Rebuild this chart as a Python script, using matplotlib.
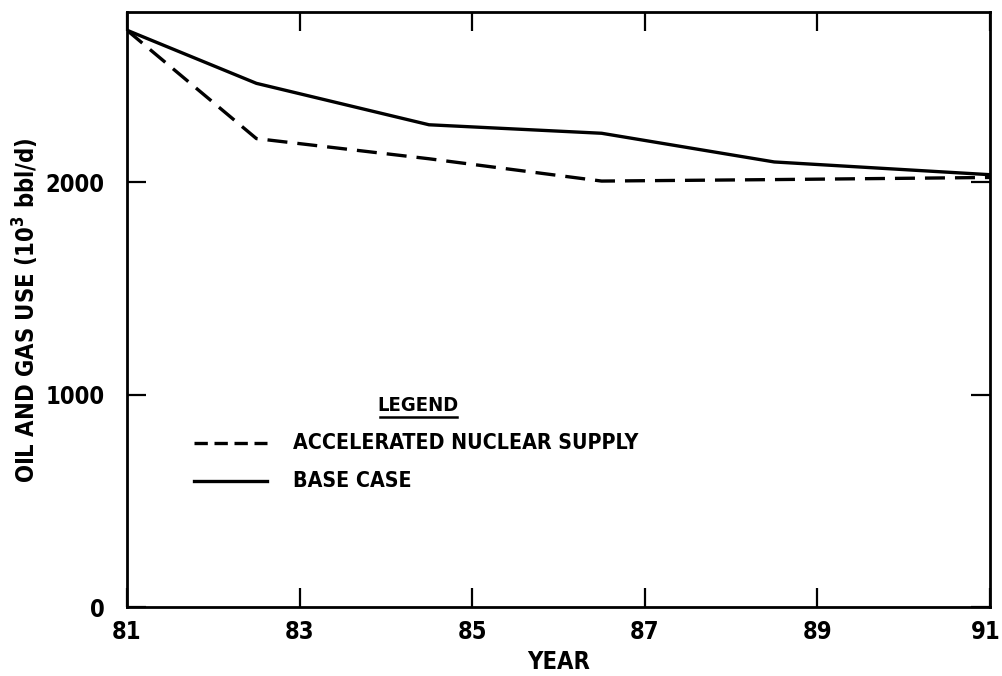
import matplotlib
matplotlib.use("Agg")
import matplotlib.pyplot as plt
from matplotlib.lines import Line2D
from matplotlib.transforms import ScaledTranslation

years = [81, 82.5, 84.5, 86.5, 88.5, 91]
base_case = [2715, 2465, 2270, 2230, 2095, 2035]
accelerated = [2715, 2205, 2110, 2005, 2012, 2022]

xticks = [81, 83, 85, 87, 89, 91]
xticklabels = ["81", "83", "85", "87", "89", "91"]
yticks = [0, 1000, 2000]
yticklabels = ["0", "1000", "2000"]

plt.rcParams['font.family'] = ['DejaVu Sans']
plt.rcParams['font.stretch'] = 'condensed'
plt.rcParams['mathtext.fontset'] = 'dejavusans'
fig = plt.figure(figsize=(10.02, 6.76), dpi=100)
ax = fig.add_axes([0.1267, 0.102, 0.8613, 0.880])

ax.plot(years, base_case, color="black", lw=2.4, solid_capstyle="round")
ax.plot(years, accelerated, color="black", lw=2.4, dashes=(6, 3))

ax.set_xlim(81, 91)
ax.set_ylim(0, 2800)
ax.set_xticks(xticks)
ax.set_xticklabels(xticklabels, fontsize=17, fontweight="bold")
ax.set_yticks(yticks)
ax.set_yticklabels(yticklabels, fontsize=17, fontweight="bold")
ax.tick_params(direction="in", length=14, width=1.6, top=True, right=True)
ax.tick_params(axis="y", pad=16)
ax.tick_params(axis="x", pad=9)
for s in ax.spines.values():
    s.set_linewidth(2)

# keep the last x tick label inside the canvas
last = ax.get_xticklabels()[-1]
last.set_transform(last.get_transform() + ScaledTranslation(-4 / 100, 0, fig.dpi_scale_trans))

ax.set_xlabel("YEAR", fontsize=17, fontweight="bold", labelpad=5)
ax.set_ylabel("OIL AND GAS USE (10$^{\\mathbf{3}}$ bbl/d)", fontsize=17,
              fontweight="bold", labelpad=3)

# legend
ax.text(0.337, 0.338, "LEGEND", transform=ax.transAxes, fontsize=14.5,
        fontweight="bold", ha="center", va="center")
ax.plot([0.293, 0.382], [0.32, 0.32], transform=ax.transAxes, color="black", lw=1.8)
ax.add_line(Line2D([0.078, 0.162], [0.275, 0.275], transform=ax.transAxes,
                   color="black", lw=2.4, dashes=(4, 2)))
ax.add_line(Line2D([0.078, 0.162], [0.212, 0.212], transform=ax.transAxes,
                   color="black", lw=2.4))
ax.text(0.192, 0.275, "ACCELERATED NUCLEAR SUPPLY", transform=ax.transAxes,
        fontsize=15.3, fontweight="bold", va="center")
ax.text(0.192, 0.212, "BASE CASE", transform=ax.transAxes,
        fontsize=15.3, fontweight="bold", va="center")

fig.savefig("out.png", dpi=100)
